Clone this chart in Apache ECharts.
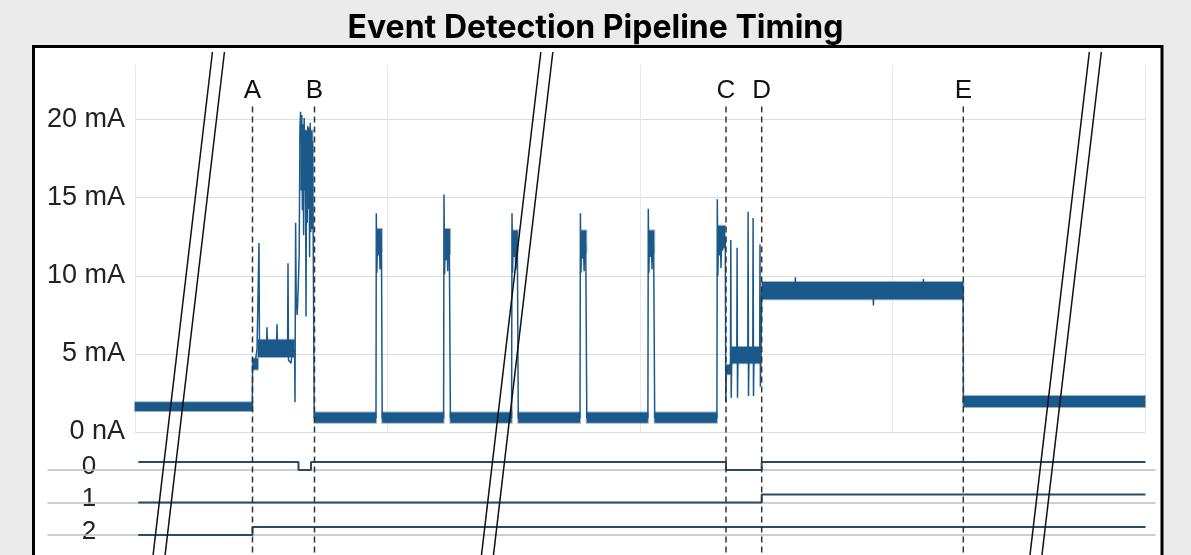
<!DOCTYPE html>
<html>
<head>
<meta charset="utf-8">
<title>Event Detection Pipeline Timing</title>
<script src="https://cdn.jsdelivr.net/npm/echarts@6/dist/echarts.min.js"></script>
<style>
  html, body { margin: 0; padding: 0; background: #ebebeb; }
  #chart { width: 1191px; height: 555px; }
</style>
</head>
<body>
<div id="chart"></div>
<script>
// time is in sample units (0..1010), current in mA
const yTickLabels = { 0: '0 nA', 5: '5 mA', 10: '10 mA', 15: '15 mA', 20: '20 mA' };

const events = ['A', 'B', 'C', 'D', 'E'];
const eventTimes = [117.5, 179.5, 591, 626.7, 828.3];
const breakTimes = [32.6, 361, 909.5];

// current trace [t, mA]
const trace = [
  [0, 1.6], [117.3, 1.6],
  [117.6, 4.3], [119, 4.1], [120.5, 4.6], [122, 5.3], [123.7, 5.3], [124, 12.1], [124.5, 5.0],
  [131.6, 5.6], [132, 6.7], [132.5, 5.4], [141.6, 5.6], [142, 6.9], [142.5, 5.4],
  [150, 5.5], [152.6, 5.6], [153, 10.8], [153.5, 4.6], [156, 4.4], [157.5, 5.3], [159.6, 5.2],
  [160, 1.9], [160.6, 13.4], [161.2, 8.6], [162.2, 7.5], [163.2, 9.2], [164.2, 11.4],
  [165, 19.6], [165.6, 20.5], [166.2, 18.4], [166.8, 20.3], [167.4, 14.2], [168, 19.7],
  [168.6, 12.6], [169.2, 20.1], [169.8, 16.0], [170.4, 19.3], [171, 7.4], [171.6, 18.9],
  [172.2, 13.4], [172.8, 19.6], [173.4, 14.3], [174, 19.5], [174.6, 11.2], [175.2, 19.8],
  [175.8, 12.8], [176.4, 19.0], [177, 13.0], [177.6, 18.6], [178.2, 12.6], [179.2, 0.9],
  [241, 0.9],
  [241.3, 14.0], [241.9, 10.2], [242.6, 12.9], [243.4, 11.3], [244.2, 12.8], [245, 10.4], [245.8, 12.7], [246.5, 11.5], [247.2, 0.9],
  [308.6, 0.9],
  [309, 15.2], [309.6, 10.1], [310.3, 12.9], [311.1, 11.0], [311.9, 12.8], [312.7, 10.3], [313.5, 12.6], [314.4, 11.2], [315.4, 0.9],
  [376.6, 0.9],
  [377, 14.0], [377.6, 10.2], [378.3, 12.8], [379.1, 11.2], [379.9, 12.7], [380.7, 10.4], [381.5, 12.6], [382.4, 11.4], [383.3, 0.9],
  [445, 0.9],
  [445.4, 14.0], [446, 10.2], [446.7, 12.8], [447.5, 11.1], [448.3, 12.7], [449.1, 10.3], [449.9, 12.6], [450.8, 11.3], [451.8, 0.9],
  [512.9, 0.9],
  [513.3, 14.3], [513.9, 10.2], [514.6, 12.8], [515.4, 11.2], [516.2, 12.7], [517, 10.4], [517.8, 12.6], [518.7, 11.4], [519.7, 0.9],
  [581.9, 0.9],
  [582.3, 14.9], [582.9, 10.0], [583.6, 13.1], [584.4, 11.3], [585.2, 13.0], [586, 10.5], [586.8, 12.8], [587.6, 11.6], [588.4, 12.9], [589.3, 12.0],
  [590.3, 12.5], [590.8, 1.9], [591.4, 3.8], [593, 4.1], [595, 3.9], [595.5, 4.6],
  [595.8, 12.3], [596.2, 2.2], [596.8, 4.8], [601.8, 4.9], [602.1, 11.8], [602.5, 2.2], [603, 4.9],
  [612.8, 5.0], [613.1, 14.1], [613.5, 2.3], [614, 4.9], [617.8, 5.0], [618.1, 13.7], [618.5, 2.3], [619, 5.0],
  [624.7, 5.0], [625, 12.0], [625.4, 2.9], [626, 5.1],
  [626.8, 9.2], [660, 9.1], [660.4, 9.9], [660.8, 9.0], [738, 9.0], [738.4, 8.1], [738.8, 9.0],
  [788, 9.1], [788.4, 9.8], [788.8, 9.0], [828.1, 9.0],
  [828.4, 1.9], [1010, 1.9]
];

// noise envelope of the flat stretches [tStart, tEnd, low mA, high mA]
const noiseBands = [
  [0, 117.5, 1.35, 1.9],
  [117.5, 123, 4.0, 4.7],
  [123, 159.5, 4.8, 5.9],
  [165.5, 177.5, 15.5, 19.3],
  [179.5, 241, 0.6, 1.25],
  [242, 246.8, 11.6, 13.0],
  [247.2, 308.6, 0.6, 1.25],
  [309.6, 315, 11.4, 13.0],
  [315.4, 376.6, 0.6, 1.25],
  [377.8, 382.8, 11.5, 12.9],
  [383.3, 445, 0.6, 1.25],
  [446.2, 451.3, 11.5, 12.9],
  [451.8, 512.9, 0.6, 1.25],
  [514, 519.2, 11.5, 12.9],
  [519.7, 581.9, 0.6, 1.25],
  [583, 590, 11.8, 13.2],
  [591.2, 596, 3.7, 4.3],
  [596, 626, 4.4, 5.45],
  [627, 828.3, 8.5, 9.6],
  [828.3, 1010, 1.6, 2.3]
];

// digital channels [t, level], held until the next point
const channels = ['0', '1', '2'];
const ch0 = [[3.3, 1], [163.5, 0], [176, 1], [591, 0], [626.7, 1], [1010.5, 1]];
const ch1 = [[3.3, 0], [626.7, 1], [1010.5, 1]];
const ch2 = [[3.3, 0], [117.5, 1], [1010.5, 1]];

const traceColor = '#1b598b';
const digitalColor = '#2a4a66';
const labelFont = '"Liberation Sans", Arial, sans-serif';

const chart = echarts.init(document.getElementById('chart'));

const digitalTops = [450, 482.5, 515];
const digitalHeights = [32.5, 32.5, 40];

const option = {
  animation: false,
  backgroundColor: '#ebebeb',
  title: {
    text: 'Event Detection Pipeline Timing',
    left: 'center',
    top: 7,
    textStyle: { fontSize: 32, fontWeight: 'bold', fontFamily: 'Inter', color: '#000' }
  },
  graphic: [
    {
      type: 'rect', z: -10,
      shape: { x: 33.5, y: 46.5, width: 1128.5, height: 530 },
      style: { fill: '#fff', stroke: '#000', lineWidth: 3 }
    }
  ].concat(channels.map((c, i) => ({
    type: 'text',
    x: 89,
    y: digitalTops[i] + 16.5,
    style: {
      text: c, align: 'center', verticalAlign: 'middle',
      fontSize: 26, fontFamily: labelFont, fill: '#222'
    }
  }))),
  grid: [
    { left: 135, right: 46, top: 65, bottom: 123 },
    { left: 48, right: 36, top: digitalTops[0], height: digitalHeights[0] },
    { left: 48, right: 36, top: digitalTops[1], height: digitalHeights[1] },
    { left: 48, right: 36, top: digitalTops[2], height: digitalHeights[2] },
    { left: 135, right: 46, top: 45, bottom: 0 }
  ],
  xAxis: [
    {
      gridIndex: 0, type: 'value', min: 0, max: 1010, interval: 252.5,
      axisLine: { show: false }, axisTick: { show: false }, axisLabel: { show: false },
      splitLine: { show: true, lineStyle: { color: '#e8e8e8', width: 1 } }
    }
  ].concat([1, 2, 3].map(g => ({
    gridIndex: g, type: 'value', min: -87, max: 1020, position: 'top',
    axisLine: { show: true, lineStyle: { color: '#bfbfbf', width: 1.5 } },
    axisTick: { show: false }, axisLabel: { show: false }, splitLine: { show: false }
  }))).concat([
    { gridIndex: 4, type: 'value', min: 0, max: 1010, show: false }
  ]),
  yAxis: [
    {
      gridIndex: 0, type: 'value', min: 0, max: 23.5, interval: 5,
      axisLine: { show: false }, axisTick: { show: false },
      axisLabel: {
        margin: 10, fontSize: 27, fontFamily: labelFont, color: '#222',
        formatter: v => yTickLabels[v] || ''
      },
      splitLine: {
        show: true,
        lineStyle: { color: ['#dcdcdc', '#dcdcdc', '#dcdcdc', '#dcdcdc', '#dcdcdc', 'rgba(0,0,0,0)'], width: 1.2 }
      }
    },
    {
      gridIndex: 0, type: 'value', min: 0, max: 23.5, position: 'right',
      axisLine: { show: true, lineStyle: { color: '#e8e8e8' } },
      axisTick: { show: false }, axisLabel: { show: false }, splitLine: { show: false }
    },
    { gridIndex: 1, type: 'value', min: -1.5625, max: 2.5, show: false },
    { gridIndex: 2, type: 'value', min: -1.5625, max: 2.5, show: false },
    { gridIndex: 3, type: 'value', min: -2.5, max: 2.5, show: false },
    { gridIndex: 4, type: 'value', min: -7.9, max: 24.85, show: false }
  ],
  series: [
    {
      name: 'noise',
      type: 'custom',
      xAxisIndex: 0, yAxisIndex: 0,
      data: noiseBands,
      encode: { x: [0, 1], y: [2, 3] },
      renderItem: (params, api) => {
        const p0 = api.coord([api.value(0), api.value(3)]);
        const p1 = api.coord([api.value(1), api.value(2)]);
        return {
          type: 'rect',
          shape: { x: p0[0], y: p0[1], width: p1[0] - p0[0], height: p1[1] - p0[1] },
          style: { fill: traceColor, stroke: 'rgba(27,89,139,0.45)', lineWidth: 2 }
        };
      },
      z: 2
    },
    {
      name: 'current',
      type: 'line',
      xAxisIndex: 0, yAxisIndex: 0,
      data: trace,
      showSymbol: false,
      lineStyle: { width: 1.5, color: traceColor },
      itemStyle: { color: traceColor },
      z: 3
    },
    ...[ch0, ch1, ch2].map((d, i) => ({
      name: 'ch' + channels[i],
      type: 'line',
      xAxisIndex: i + 1, yAxisIndex: i + 2,
      data: d,
      step: 'end',
      showSymbol: false,
      lineStyle: { width: 2, color: digitalColor },
      z: 3
    })),
    {
      name: 'events',
      type: 'custom',
      xAxisIndex: 4, yAxisIndex: 5,
      data: eventTimes.map((t, i) => [t, i]),
      renderItem: (params, api) => {
        const t = api.value(0);
        const top = api.coord([t, 20.9]);
        const bottom = api.coord([t, -7.9]);
        return {
          type: 'group',
          children: [
            {
              type: 'line',
              shape: { x1: top[0], y1: top[1], x2: bottom[0], y2: bottom[1] },
              style: { stroke: '#333', lineWidth: 1.5, lineDash: [6, 4] }
            },
            {
              type: 'text',
              style: {
                text: events[params.dataIndex], x: top[0], y: top[1] - 16,
                align: 'center', verticalAlign: 'middle',
                fontSize: 26, fontFamily: labelFont, fill: '#111'
              }
            }
          ]
        };
      },
      z: 5
    },
    {
      name: 'breaks',
      type: 'custom',
      xAxisIndex: 4, yAxisIndex: 5,
      data: breakTimes.map(t => [t, 0]),
      renderItem: (params, api) => {
        const p = api.coord([api.value(0), 0]);
        const slope = 0.118;
        const yTop = 52, yBot = 556;
        const lines = [0, 12].map(off => ({
          type: 'line',
          shape: {
            x1: p[0] + off + slope * (p[1] - yTop), y1: yTop,
            x2: p[0] + off - slope * (yBot - p[1]), y2: yBot
          },
          style: { stroke: '#111', lineWidth: 1.5 }
        }));
        return { type: 'group', children: lines };
      },
      z: 10
    }
  ]
};

chart.setOption(option);
</script>
</body>
</html>
